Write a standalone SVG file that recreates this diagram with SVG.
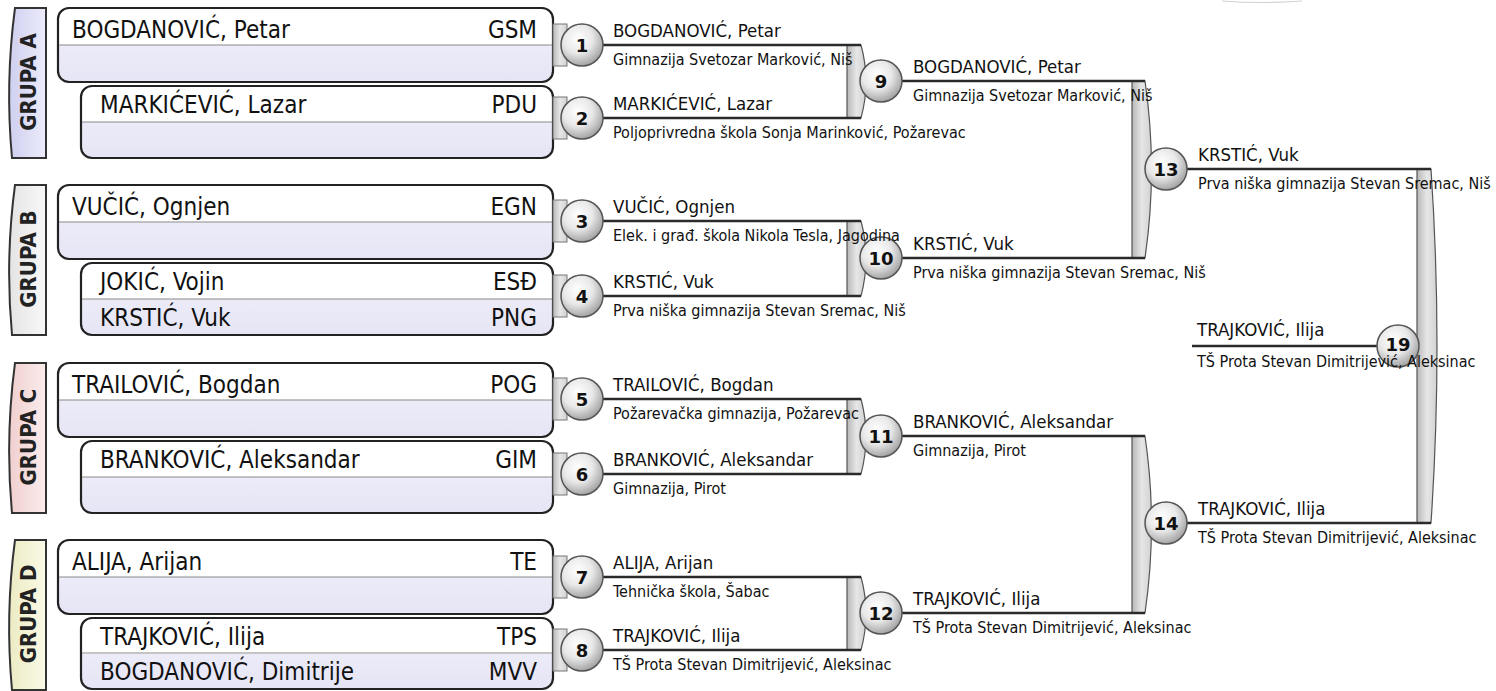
<svg xmlns="http://www.w3.org/2000/svg" width="1496" height="691" viewBox="0 0 1496 691">
<defs>
<linearGradient id="boxFill" x1="0" y1="0" x2="0" y2="1">
<stop offset="0" stop-color="#ffffff"/><stop offset="0.5" stop-color="#ffffff"/><stop offset="0.5" stop-color="#ecebf8"/><stop offset="1" stop-color="#e6e5f5"/>
</linearGradient>
<linearGradient id="tabA" x1="0" y1="0" x2="1" y2="0"><stop offset="0" stop-color="#cfcff0"/><stop offset="1" stop-color="#ececfb"/></linearGradient>
<linearGradient id="tabB" x1="0" y1="0" x2="1" y2="0"><stop offset="0" stop-color="#e4e4e4"/><stop offset="1" stop-color="#f8f8f8"/></linearGradient>
<linearGradient id="tabC" x1="0" y1="0" x2="1" y2="0"><stop offset="0" stop-color="#f0cfcf"/><stop offset="1" stop-color="#fbecec"/></linearGradient>
<linearGradient id="tabD" x1="0" y1="0" x2="1" y2="0"><stop offset="0" stop-color="#ecebc4"/><stop offset="1" stop-color="#fafae6"/></linearGradient>
<linearGradient id="barFill" x1="0" y1="0" x2="1" y2="0"><stop offset="0" stop-color="#b8b8b8"/><stop offset="0.5" stop-color="#e6e6e6"/><stop offset="1" stop-color="#d2d2d2"/></linearGradient>
<radialGradient id="ballFill" cx="0.4" cy="0.35" r="0.7"><stop offset="0" stop-color="#ffffff"/><stop offset="0.5" stop-color="#e8e8e8"/><stop offset="1" stop-color="#9a9a9a"/></radialGradient>
</defs>
<style>
.tab{stroke:#333;stroke-width:2}
.tabt{font-family:"DejaVu Sans Condensed","DejaVu Sans",sans-serif;font-stretch:condensed;font-weight:bold;font-size:22px;fill:#222;text-anchor:middle}
.box{fill:url(#boxFill);stroke:#222;stroke-width:2.2}
.div{stroke:#8a8a8a;stroke-width:1.2}
.nm{font-family:"DejaVu Sans Condensed","DejaVu Sans",sans-serif;font-stretch:condensed;font-size:24px;fill:#111}
.cd{font-family:"DejaVu Sans Condensed","DejaVu Sans",sans-serif;font-stretch:condensed;font-size:24px;fill:#111;text-anchor:end}
.stub{fill:url(#barFill);stroke:#777;stroke-width:1}
.bar{fill:url(#barFill);stroke:#555;stroke-width:1.2}
.ln{stroke:#2a2a2a;stroke-width:2.6;fill:none}
.ball{fill:url(#ballFill);stroke:#555;stroke-width:1.5}
.num{font-family:"DejaVu Sans",sans-serif;font-weight:bold;font-size:18px;fill:#111;text-anchor:middle}
.ln1{font-family:"DejaVu Sans Condensed","DejaVu Sans",sans-serif;font-stretch:condensed;font-size:18.5px;fill:#111}
.ln2{font-family:"DejaVu Sans Condensed","DejaVu Sans",sans-serif;font-stretch:condensed;font-size:16px;fill:#111}
</style>
<rect width="1496" height="691" fill="#ffffff"/>
<path d="M1222,1 Q1262,4 1302,1" stroke="#d0d0d0" stroke-width="1.2" fill="none"/>

<g id="grupa-a">
<path class="tab" fill="url(#tabA)" d="M46,8 H15 Q5,83 12,158 H46 Z"/>
<text class="tabt" transform="translate(36,82) rotate(-90)">GRUPA A</text>
<rect class="box" x="58" y="8" width="495" height="74" rx="11"/><line class="div" x1="59" y1="45" x2="552" y2="45"/>
<text class="nm" x="72" y="38">BOGDANOVIĆ, Petar</text><text class="cd" x="537" y="38">GSM</text>
<rect class="box" x="81" y="86" width="472" height="72" rx="11"/><line class="div" x1="82" y1="122" x2="552" y2="122"/>
<text class="nm" x="100" y="113">MARKIĆEVIĆ, Lazar</text><text class="cd" x="537" y="113">PDU</text>
</g>
<g id="grupa-b">
<path class="tab" fill="url(#tabB)" d="M46,185 H15 Q5,260 12,335 H46 Z"/>
<text class="tabt" transform="translate(36,259) rotate(-90)">GRUPA B</text>
<rect class="box" x="58" y="185" width="495" height="74" rx="11"/><line class="div" x1="59" y1="222" x2="552" y2="222"/>
<text class="nm" x="72" y="215">VUČIĆ, Ognjen</text><text class="cd" x="537" y="215">EGN</text>
<rect class="box" x="81" y="263" width="472" height="72" rx="11"/><line class="div" x1="82" y1="299" x2="552" y2="299"/>
<text class="nm" x="100" y="290">JOKIĆ, Vojin</text><text class="cd" x="537" y="290">ESĐ</text>
<text class="nm" x="100" y="326">KRSTIĆ, Vuk</text><text class="cd" x="537" y="326">PNG</text>
</g>
<g id="grupa-c">
<path class="tab" fill="url(#tabC)" d="M46,363 H15 Q5,438 12,513 H46 Z"/>
<text class="tabt" transform="translate(36,437) rotate(-90)">GRUPA C</text>
<rect class="box" x="58" y="363" width="495" height="74" rx="11"/><line class="div" x1="59" y1="400" x2="552" y2="400"/>
<text class="nm" x="72" y="393">TRAILOVIĆ, Bogdan</text><text class="cd" x="537" y="393">POG</text>
<rect class="box" x="81" y="441" width="472" height="72" rx="11"/><line class="div" x1="82" y1="477" x2="552" y2="477"/>
<text class="nm" x="100" y="468">BRANKOVIĆ, Aleksandar</text><text class="cd" x="537" y="468">GIM</text>
</g>
<g id="grupa-d">
<path class="tab" fill="url(#tabD)" d="M46,540 H15 Q5,615 12,690 H46 Z"/>
<text class="tabt" transform="translate(36,614) rotate(-90)">GRUPA D</text>
<rect class="box" x="58" y="540" width="495" height="74" rx="11"/><line class="div" x1="59" y1="577" x2="552" y2="577"/>
<text class="nm" x="72" y="570">ALIJA, Arijan</text><text class="cd" x="537" y="570">TE</text>
<rect class="box" x="81" y="618" width="472" height="71" rx="11"/><line class="div" x1="82" y1="653" x2="552" y2="653"/>
<text class="nm" x="100" y="645">TRAJKOVIĆ, Ilija</text><text class="cd" x="537" y="645">TPS</text>
<text class="nm" x="100" y="680">BOGDANOVIĆ, Dimitrije</text><text class="cd" x="537" y="680">MVV</text>
</g>

<g id="connectors">
<rect class="stub" x="553" y="24" width="14" height="42"/>
<rect class="stub" x="553" y="97" width="14" height="42"/>
<rect class="stub" x="553" y="200" width="14" height="42"/>
<rect class="stub" x="553" y="275" width="14" height="42"/>
<rect class="stub" x="553" y="378" width="14" height="42"/>
<rect class="stub" x="553" y="453" width="14" height="42"/>
<rect class="stub" x="553" y="556" width="14" height="42"/>
<rect class="stub" x="553" y="629" width="14" height="42"/>
<path class="bar" d="M847,45 H861 Q871,81.5 861,118 H847 Z"/>
<path class="bar" d="M847,221 H861 Q871,258.5 861,296 H847 Z"/>
<path class="bar" d="M847,399 H861 Q871,436.5 861,474 H847 Z"/>
<path class="bar" d="M847,577 H861 Q871,613.5 861,650 H847 Z"/>
<path class="bar" d="M1132,81 H1145 Q1158,169.5 1145,258 H1132 Z"/>
<path class="bar" d="M1132,436 H1145 Q1158,524 1145,613 H1132 Z"/>
<path class="bar" d="M1417,169 H1431 Q1443,346 1431,523 H1417 Z"/>
<path class="ln" d="M582,45 H861 M582,118 H861 M582,221 H861 M582,296 H861 M582,399 H861 M582,474 H861 M582,577 H861 M582,650 H861"/>
<path class="ln" d="M881,81 H1145 M881,258 H1145 M881,436 H1145 M881,613 H1145"/>
<path class="ln" d="M1166,169 H1431 M1166,523 H1431 M1192,346 H1398"/>
</g>

<g id="m19"><circle class="ball" cx="1398" cy="346" r="21"/><text class="num" x="1398" y="351">19</text><text class="ln1" x="1197" y="336">TRAJKOVIĆ, Ilija</text><text class="ln2" x="1197" y="367">TŠ Prota Stevan Dimitrijević, Aleksinac</text></g>
<g id="m13"><circle class="ball" cx="1166" cy="169" r="21"/><text class="num" x="1166" y="175.5">13</text><text class="ln1" x="1198" y="161">KRSTIĆ, Vuk</text><text class="ln2" x="1198" y="189">Prva niška gimnazija Stevan Sremac, Niš</text></g>
<g id="m14"><circle class="ball" cx="1166" cy="523" r="21"/><text class="num" x="1166" y="529.5">14</text><text class="ln1" x="1198" y="515">TRAJKOVIĆ, Ilija</text><text class="ln2" x="1198" y="543">TŠ Prota Stevan Dimitrijević, Aleksinac</text></g>
<g id="m9"><circle class="ball" cx="881" cy="81" r="21"/><text class="num" x="881" y="87.5">9</text><text class="ln1" x="913" y="73">BOGDANOVIĆ, Petar</text><text class="ln2" x="913" y="101">Gimnazija Svetozar Marković, Niš</text></g>
<g id="m10"><circle class="ball" cx="881" cy="258" r="21"/><text class="num" x="881" y="264.5">10</text><text class="ln1" x="913" y="250">KRSTIĆ, Vuk</text><text class="ln2" x="913" y="278">Prva niška gimnazija Stevan Sremac, Niš</text></g>
<g id="m11"><circle class="ball" cx="881" cy="436" r="21"/><text class="num" x="881" y="442.5">11</text><text class="ln1" x="913" y="428">BRANKOVIĆ, Aleksandar</text><text class="ln2" x="913" y="456">Gimnazija, Pirot</text></g>
<g id="m12"><circle class="ball" cx="881" cy="613" r="21"/><text class="num" x="881" y="619.5">12</text><text class="ln1" x="913" y="605">TRAJKOVIĆ, Ilija</text><text class="ln2" x="913" y="633">TŠ Prota Stevan Dimitrijević, Aleksinac</text></g>
<g id="m1"><circle class="ball" cx="582" cy="45" r="21"/><text class="num" x="582" y="51.5">1</text><text class="ln1" x="613" y="37">BOGDANOVIĆ, Petar</text><text class="ln2" x="613" y="65">Gimnazija Svetozar Marković, Niš</text></g>
<g id="m2"><circle class="ball" cx="582" cy="118" r="21"/><text class="num" x="582" y="124.5">2</text><text class="ln1" x="613" y="110">MARKIĆEVIĆ, Lazar</text><text class="ln2" x="613" y="138">Poljoprivredna škola Sonja Marinković, Požarevac</text></g>
<g id="m3"><circle class="ball" cx="582" cy="221" r="21"/><text class="num" x="582" y="227.5">3</text><text class="ln1" x="613" y="213">VUČIĆ, Ognjen</text><text class="ln2" x="613" y="241">Elek. i građ. škola Nikola Tesla, Jagodina</text></g>
<g id="m4"><circle class="ball" cx="582" cy="296" r="21"/><text class="num" x="582" y="302.5">4</text><text class="ln1" x="613" y="288">KRSTIĆ, Vuk</text><text class="ln2" x="613" y="316">Prva niška gimnazija Stevan Sremac, Niš</text></g>
<g id="m5"><circle class="ball" cx="582" cy="399" r="21"/><text class="num" x="582" y="405.5">5</text><text class="ln1" x="613" y="391">TRAILOVIĆ, Bogdan</text><text class="ln2" x="613" y="419">Požarevačka gimnazija, Požarevac</text></g>
<g id="m6"><circle class="ball" cx="582" cy="474" r="21"/><text class="num" x="582" y="480.5">6</text><text class="ln1" x="613" y="466">BRANKOVIĆ, Aleksandar</text><text class="ln2" x="613" y="494">Gimnazija, Pirot</text></g>
<g id="m7"><circle class="ball" cx="582" cy="577" r="21"/><text class="num" x="582" y="583.5">7</text><text class="ln1" x="613" y="569">ALIJA, Arijan</text><text class="ln2" x="613" y="597">Tehnička škola, Šabac</text></g>
<g id="m8"><circle class="ball" cx="582" cy="650" r="21"/><text class="num" x="582" y="656.5">8</text><text class="ln1" x="613" y="642">TRAJKOVIĆ, Ilija</text><text class="ln2" x="613" y="670">TŠ Prota Stevan Dimitrijević, Aleksinac</text></g>
</svg>
